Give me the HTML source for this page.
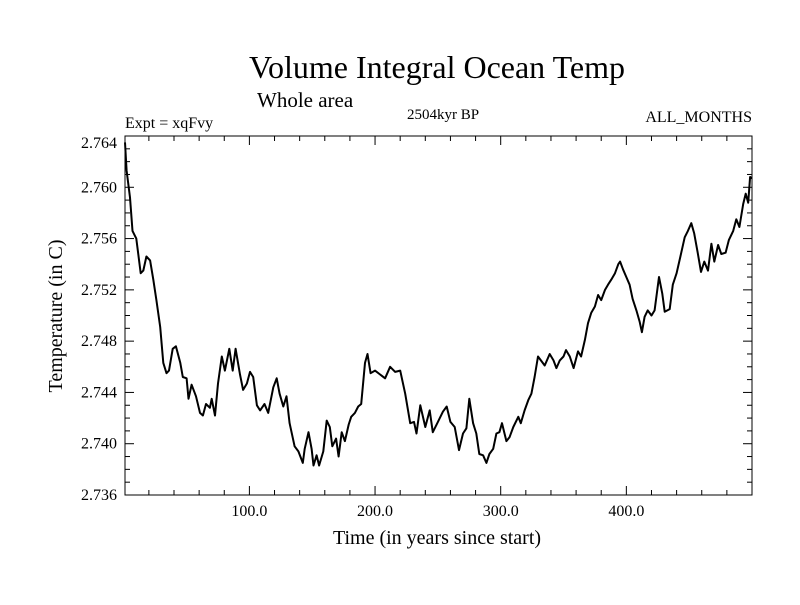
<!DOCTYPE html>
<html><head><meta charset="utf-8"><style>
body{margin:0;background:#fff}
svg text{font-family:"Liberation Serif",serif;fill:#000}
</style></head><body>
<svg id="chart" width="800" height="600" viewBox="0 0 800 600">
<text x="437" y="78" font-size="32" text-anchor="middle">Volume Integral Ocean Temp</text>
<text x="257" y="107" font-size="21">Whole area</text>
<text x="125" y="128" font-size="16">Expt = xqFvy</text>
<text x="443" y="119" font-size="15" text-anchor="middle">2504kyr BP</text>
<text x="752" y="122" font-size="16" text-anchor="end">ALL_MONTHS</text>
<text x="437" y="544" font-size="20" text-anchor="middle">Time (in years since start)</text>
<text x="0" y="0" font-size="20" text-anchor="middle" transform="translate(62,316) rotate(-90)">Temperature (in C)</text>
<g id="axes"></g>
<path id="line" fill="none" stroke="#000" stroke-width="2" stroke-linejoin="round"/>
<rect x="125" y="136" width="627" height="359" fill="none" stroke="#000" stroke-width="1"/>
</svg>
<script>
const years=[1,2.3,5,7,10,13.5,15.6,18,21,23.5,26,29,31.5,34,36,39,41.5,45,47,50,51.5,54,57.5,60.7,63,65.5,68.6,70,72.6,75,78,80.5,84,86.7,89,92.5,95,98,100.5,103,106,108.5,112,115,119,121.7,124,127,129.5,132,136,139,142.5,144,147,149.5,151,153.5,155.5,158.8,161.5,164,166,169,171,173.5,176,179,181,184,186.6,189,192,194,196.5,200,204,208,212,216,220,224,228,231,233,236,240,243.5,246,250,254,257,260,263.4,266.8,270,272.7,275,278,280.6,283,286,288.6,291,294,296.6,299,301,304.5,307,310,314,316,319,322,324.4,327,329.7,332,335,339,342,344.3,347,350,352,355,358,361.5,364,367,369.5,372,375,377.5,380,383,385.4,388,391,393.6,395,397.3,400,402.6,405,408,410.6,412.4,414.5,417,420,422.5,426,428.6,430.5,434.5,437,440,443,446.4,449,451.7,454,456.8,459.4,462,465,467.7,470,473,475.6,479,481.6,485,487.5,490,493,495,497,498.5,500];
const temps=[2.7635,2.7613,2.7592,2.7566,2.7560,2.7533,2.7535,2.7546,2.7543,2.7528,2.7512,2.7491,2.7463,2.7455,2.7457,2.7474,2.7476,2.7463,2.7452,2.7451,2.7435,2.7446,2.7437,2.7424,2.7422,2.7431,2.7428,2.7435,2.7422,2.7447,2.7468,2.7457,2.7474,2.7457,2.7474,2.7454,2.7442,2.7447,2.7456,2.7452,2.7430,2.7426,2.7431,2.7424,2.7444,2.7451,2.7439,2.7429,2.7437,2.7416,2.7398,2.7394,2.7385,2.7396,2.7409,2.7396,2.7383,2.7391,2.7383,2.7394,2.7418,2.7413,2.7398,2.7404,2.7390,2.7409,2.7402,2.7415,2.7421,2.7424,2.7429,2.7431,2.7463,2.7470,2.7455,2.7457,2.7454,2.7451,2.7460,2.7456,2.7457,2.7439,2.7416,2.7417,2.7408,2.7430,2.7413,2.7426,2.7409,2.7417,2.7425,2.7429,2.7417,2.7413,2.7395,2.7408,2.7412,2.7435,2.7416,2.7408,2.7392,2.7391,2.7385,2.7392,2.7396,2.7408,2.7409,2.7416,2.7402,2.7405,2.7413,2.7421,2.7416,2.7426,2.7434,2.7439,2.7452,2.7468,2.7465,2.7461,2.7470,2.7465,2.7459,2.7465,2.7468,2.7473,2.7468,2.7459,2.7472,2.7468,2.7481,2.7494,2.7502,2.7507,2.7516,2.7512,2.7520,2.7524,2.7528,2.7533,2.7540,2.7542,2.7536,2.7530,2.7524,2.7513,2.7504,2.7495,2.7487,2.7499,2.7504,2.7500,2.7504,2.7530,2.7517,2.7503,2.7505,2.7524,2.7533,2.7546,2.7561,2.7566,2.7572,2.7564,2.7549,2.7534,2.7542,2.7535,2.7556,2.7542,2.7555,2.7548,2.7549,2.7559,2.7566,2.7575,2.7569,2.7587,2.7595,2.7588,2.7608,2.7607];
const xTickValues=[100,200,300,400];
const xTickLabels=["100.0","200.0","300.0","400.0"];
const yTickValues=[2.736,2.740,2.744,2.748,2.752,2.756,2.760,2.764];
const yTickLabels=["2.736","2.740","2.744","2.748","2.752","2.756","2.760","2.764"];
const X0=125,X1=752,Y0=495,Y1=136,XMIN=1,XMAX=500,YMIN=2.736,YMAX=2.764;
const xs=v=>X0+(v-XMIN)/(XMAX-XMIN)*(X1-X0);
const ys=v=>Y0-(v-YMIN)/(YMAX-YMIN)*(Y0-Y1);
const NS="http://www.w3.org/2000/svg";
const g=document.getElementById('axes');
function ln(x1,y1,x2,y2,name){const l=document.createElementNS(NS,'line');
l.setAttribute('x1',x1);l.setAttribute('y1',y1);l.setAttribute('x2',x2);l.setAttribute('y2',y2);
l.setAttribute('stroke','#000');l.setAttribute('stroke-width','1');


g.appendChild(l);}
function tx(x,y,s,anchor,name){const t=document.createElementNS(NS,'text');
t.setAttribute('x',x);t.setAttribute('y',y);t.setAttribute('font-size','16');t.setAttribute('text-anchor',anchor);t.textContent=s;


g.appendChild(t);}
for(let v=20;v<XMAX;v+=20){const x=xs(v);const major=v%100===0;const L=major?9:5;
ln(x,Y0,x,Y0-L,'x-tick');ln(x,Y1,x,Y1+L,'x-tick-top');}
for(let i=0;i<=28;i++){const v=YMIN+i*0.001;const y=ys(v);const major=i%4===0;const L=major?9:5;
ln(X0,y,X0+L,y,'y-tick');ln(X1,y,X1-L,y,'y-tick-right');}
xTickValues.forEach((v,i)=>tx(xs(v),516,xTickLabels[i],'middle','x-tick-label'));
yTickValues.forEach((v,i)=>{let y=ys(v)+5;if(y<148)y=148;tx(117,y,yTickLabels[i],'end','y-tick-label');});
document.getElementById('line').setAttribute('d',years.map((y,i)=>(i?'L':'M')+xs(y).toFixed(1)+','+ys(temps[i]).toFixed(1)).join(''));
</script>
</body></html>
